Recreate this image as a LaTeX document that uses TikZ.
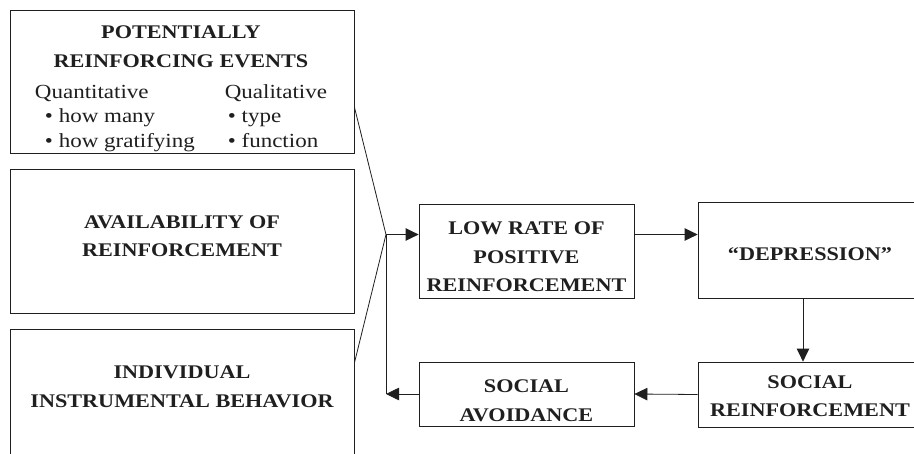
\documentclass[tikz,border=0pt]{standalone}
\usepackage{fontspec}
\setmainfont{Liberation Serif}[FakeStretch=1.15]
\usetikzlibrary{arrows.meta}

\begin{document}
\begin{tikzpicture}[x=1pt, y=-1pt, black!88, line width=0.8pt,
  >={Triangle[length=13pt, width=12.5pt]},
  b/.style={draw, align=center, inner sep=0pt, font=\fontsize{19.3}{28.5}\selectfont\bfseries},
  lb/.style={b, minimum width=344pt, minimum height=144pt},
  sb/.style={b, minimum width=215pt}]
  \useasboundingbox (0,0) rectangle (914,453);
  \clip (0,0) rectangle (914,453);
  % left column
  \node[lb, minimum height=143pt] (ev) at (182,81.5) {};
  \node[font=\fontsize{20}{24.5}\selectfont, inner sep=0pt] (evtxt) at (181,88.3) {\begin{tabular}{@{}l@{\hspace{30pt}}l@{}}
    \multicolumn{2}{c}{\fontsize{19.3}{24.5}\selectfont\bfseries POTENTIALLY}\\[4.5pt]
    \multicolumn{2}{c}{\fontsize{19.3}{24.5}\selectfont\bfseries REINFORCING EVENTS}\\[6pt]
    Quantitative & Qualitative\\
    \hspace{10pt}\textbullet\ how many & \hspace{3pt}\textbullet\ type\\
    \hspace{10pt}\textbullet\ how gratifying & \hspace{3pt}\textbullet\ function
  \end{tabular}};
  \node[lb] (av) at (182,241) {AVAILABILITY OF\\REINFORCEMENT\rule[-9.6pt]{0pt}{9.6pt}};
  \node[lb] (ib) at (182,401) {INDIVIDUAL\\INSTRUMENTAL BEHAVIOR\rule[-28.6pt]{0pt}{28.6pt}};
  % loop on the right
  \node[sb, minimum height=94pt] (low) at (526.5,251) {\rule{0pt}{25pt}LOW RATE OF\\POSITIVE\\REINFORCEMENT};
  \node[b, minimum width=224pt, minimum height=96pt] (dep) at (810,250) {\rule{0pt}{22pt}``DEPRESSION''};
  \node[sb, minimum height=64pt] (sa) at (526.5,394) {\rule{0pt}{26pt}SOCIAL\\AVOIDANCE};
  \node[b, minimum width=224pt, minimum height=65pt] (sr) at (810,394.5) {\rule{0pt}{16pt}SOCIAL\\REINFORCEMENT};
  \coordinate (jn) at (386,234.5);
  \draw ([yshift=-25.5pt]ev.east) -- (jn);
  \draw ([yshift=38pt]ib.east) -- (jn);
  \draw (jn) -- (jn |- sa.west);
  \draw[->] (jn) -- (jn -| low.west);
  \draw[->] (low.east |- jn) -- (dep.west |- jn);
  \draw[->] ([xshift=-7pt]dep.south) -- ([xshift=-7pt]dep.south |- sr.north);
  \draw[->] (sr.west) -- (sa.east);
  \draw[->] (sa.west) -- (jn |- sa.west);
\end{tikzpicture}
\end{document}
